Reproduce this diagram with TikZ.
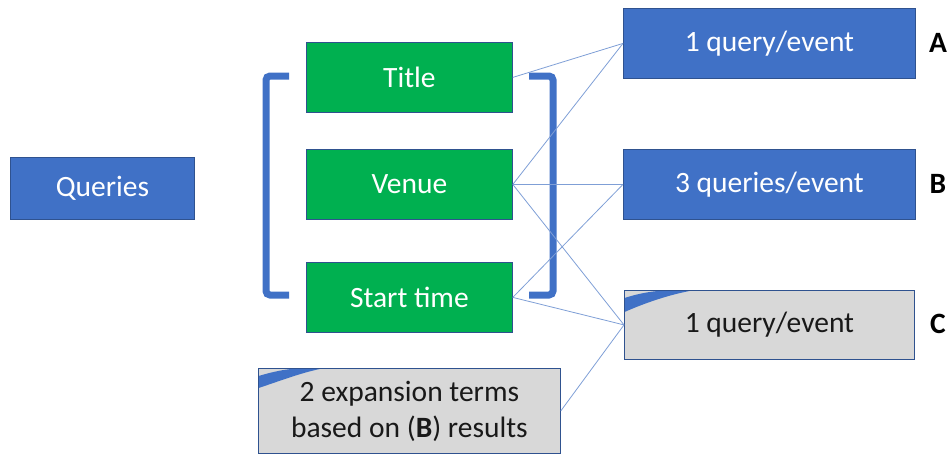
\documentclass[tikz,border=0pt]{standalone}
\usepackage{fontspec}
\setmainfont{Carlito}
\begin{document}
\begin{tikzpicture}[x=1pt,y=-1pt,
  every node/.style={font=\fontsize{29.5}{36}\selectfont},
  box/.style={draw=edgeblue,line width=0.8pt,inner sep=0pt,anchor=north west},
  bluebox/.style={box,fill=boxblue,text=white},
  greenbox/.style={box,fill=boxgreen,text=white},
  graybox/.style={box,fill=boxgray,text=black!90,align=center},
  link/.style={draw=linkblue,line width=0.8pt},
  bracket/.style={draw=boxblue,line width=7pt,rounded corners=4pt},
  stripe/.style={fill=boxblue},
  tag/.style={font=\fontsize{29.5}{36}\selectfont\bfseries,text=black}]
\definecolor{boxblue}{HTML}{4071C6}
\definecolor{edgeblue}{HTML}{2F528F}
\definecolor{boxgreen}{HTML}{00B050}
\definecolor{boxgray}{HTML}{D8D8D8}
\definecolor{linkblue}{HTML}{7F9FD6}
\useasboundingbox (0,0) rectangle (952,455);

% source box
\node[bluebox,minimum width=184pt,minimum height=62pt] (q) at (10,157) {Queries};

% query fields
\node[greenbox,minimum width=206pt,minimum height=70pt] (title) at (306,42) {Title};
\node[greenbox,minimum width=206pt,minimum height=70pt] (venue) at (306,149) {Venue};
\node[greenbox,minimum width=206pt,minimum height=70pt] (start) at (306,262) {Start time};

% brackets around the fields
\draw[bracket] (289,76) -- (266,76) -- (266,295) -- (289,295);
\draw[bracket] (529,76) -- (553,76) -- (553,295) -- (529,295);

% query strategies
\node[bluebox,minimum width=292pt,minimum height=70pt] (a) at (623,8) {1 query/event};
\node[bluebox,minimum width=292pt,minimum height=70pt] (b) at (623,149) {3 queries/event};
\node[graybox,minimum width=290pt,minimum height=69pt] (c) at (624,290) {1 query/event};
\node[graybox,minimum width=302pt,minimum height=85pt] (exp) at (258,368) {2 expansion terms\\based on (\textbf{B}) results};

% folded-corner stripes
\fill[stripe] (624.5,298) .. controls (640,293) and (655,290.5) .. (668,290.5) -- (692,290.5)
  .. controls (668,295) and (645,303) .. (624.5,312) -- cycle;
\draw[draw=edgeblue,line width=0.8pt] (c.north west) rectangle (c.south east);
\fill[stripe] (258.5,376) .. controls (272,372) and (285,369) .. (298,368.5) -- (322,368.5)
  .. controls (300,373) and (280,381) .. (258.5,388) -- cycle;
\draw[draw=edgeblue,line width=0.8pt] (exp.north west) rectangle (exp.south east);

% labels
\node[tag] (la) at (938,43) {A};
\node[tag] (lb) at (938,184) {B};
\node[tag] (lc) at (938,324) {C};

% connectors
\path[link] (title.east) -- (a.west);
\path[link] (venue.east) -- (a.west);
\path[link] (venue.east) -- (b.west);
\path[link] (venue.east) -- (c.west);
\path[link] (start.east) -- (b.west);
\path[link] (start.east) -- (c.west);
\path[link] (exp.east) -- (c.west);
\end{tikzpicture}
\end{document}
